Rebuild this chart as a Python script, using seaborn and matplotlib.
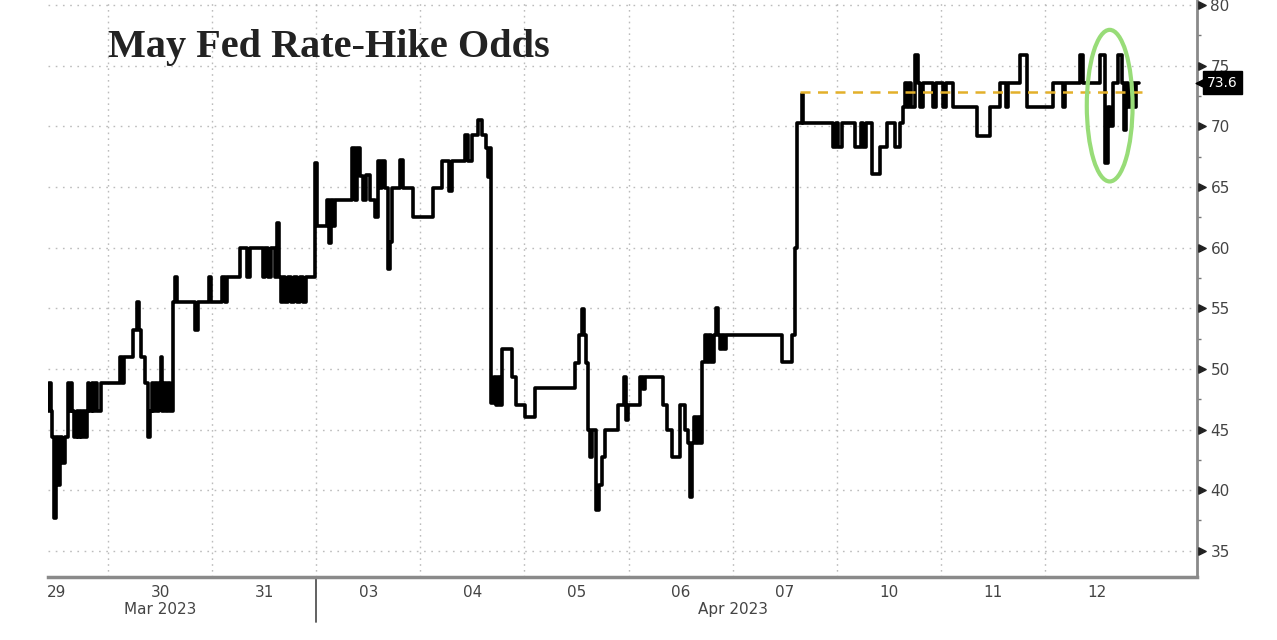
import numpy as np
import pandas as pd
import matplotlib
matplotlib.use('Agg')
import matplotlib.pyplot as plt
import matplotlib.transforms as mtransforms
from matplotlib.patches import Ellipse
import seaborn as sns

# trading-day position (0 = start of Mar 29 session) and odds (%), step changes
day_pos = [
    0.423, 0.432, 0.451, 0.461, 0.480, 0.500, 0.519, 0.538, 0.557, 0.586,
    0.615, 0.624, 0.644, 0.653, 0.672, 0.701, 0.711, 0.730, 0.740, 0.759,
    0.778, 0.797, 0.807, 0.817, 0.845, 0.855, 0.874, 0.893, 0.932,
    1.114, 1.134, 1.153, 1.239, 1.278, 1.297, 1.316, 1.354, 1.383, 1.402,
    1.422, 1.431, 1.450, 1.470, 1.489, 1.508, 1.518, 1.537, 1.556, 1.575,
    1.595, 1.623, 1.643, 1.662, 1.835, 1.864, 1.969, 1.988,
    2.094, 2.123, 2.142, 2.267, 2.334, 2.363, 2.488, 2.507, 2.536, 2.565,
    2.603, 2.622, 2.642, 2.661, 2.680, 2.699, 2.728, 2.757, 2.786, 2.815,
    2.843, 2.872, 2.901, 2.988,
    3.007, 3.103, 3.122, 3.141, 3.160, 3.180, 3.343, 3.372, 3.391, 3.420,
    3.449, 3.477, 3.516, 3.564, 3.593, 3.612, 3.631, 3.660, 3.689, 3.708,
    3.727, 3.804, 3.833, 3.929,
    4.121, 4.207, 4.275, 4.304, 4.428, 4.457, 4.496, 4.553, 4.592, 4.630,
    4.649, 4.669, 4.678, 4.707, 4.726, 4.745, 4.765, 4.784, 4.880, 4.918,
    5.005, 5.101, 5.485, 5.524, 5.552, 5.572, 5.591, 5.610, 5.629, 5.648,
    5.687, 5.716, 5.744, 5.773, 5.898, 5.956, 5.975, 5.994,
    6.109, 6.138, 6.158, 6.330, 6.369, 6.417, 6.494, 6.542, 6.571, 6.590,
    6.609, 6.628, 6.648, 6.667, 6.686, 6.705, 6.734, 6.753, 6.772, 6.792,
    6.820, 6.840, 6.859, 6.878, 6.897, 6.916, 6.936,
    7.474, 7.570, 7.598, 7.618, 7.666, 7.676, 7.964, 7.992,
    8.012, 8.050, 8.175, 8.232, 8.252, 8.280, 8.338, 8.415, 8.482, 8.559,
    8.607, 8.636, 8.655, 8.674, 8.694, 8.713, 8.751, 8.780, 8.799, 8.828,
    8.924, 8.953,
    9.020, 9.049, 9.116, 9.347, 9.472, 9.568, 9.625, 9.645, 9.760, 9.827,
    10.077, 10.173, 10.192, 10.336, 10.365, 10.528, 10.576, 10.605, 10.624,
    10.653, 10.701, 10.740, 10.759, 10.778, 10.797, 10.826, 10.855, 10.874,
    10.903,
]
odds = [
    46.5, 48.8, 46.5, 44.4, 37.7, 44.4, 40.4, 44.4, 42.2, 44.4,
    48.8, 46.5, 48.8, 46.5, 44.4, 46.5, 44.4, 46.5, 44.4, 46.5,
    44.4, 46.5, 48.8, 46.5, 48.8, 46.5, 48.8, 46.5, 48.8,
    51.0, 48.8, 51.0, 53.2, 55.5, 53.2, 51.0, 48.8, 44.4, 46.5,
    48.8, 46.5, 48.8, 46.5, 48.8, 51.0, 46.5, 48.8, 46.5, 48.8,
    46.5, 55.5, 57.6, 55.5, 53.2, 55.5, 57.6, 55.5,
    57.6, 55.5, 57.6, 60.0, 57.6, 60.0, 57.6, 60.0, 57.6, 60.0,
    57.6, 62.0, 57.6, 55.5, 57.6, 55.5, 57.6, 55.5, 57.6, 55.5,
    57.6, 55.5, 57.6, 67.0,
    61.8, 63.9, 60.4, 63.9, 61.8, 63.9, 68.2, 63.9, 68.2, 65.9,
    63.9, 66.0, 63.9, 62.5, 67.1, 64.9, 67.1, 64.9, 58.2, 60.5,
    64.9, 67.2, 64.9, 62.5,
    64.9, 67.1, 64.7, 67.1, 69.3, 67.1, 69.3, 70.5, 69.3, 68.2,
    65.8, 68.2, 47.2, 49.3, 47.0, 49.3, 47.0, 51.6, 49.3, 47.0,
    46.0, 48.4, 50.5, 52.8, 54.9, 52.8, 50.5, 45.0, 42.7, 45.0,
    38.4, 40.4, 42.7, 45.0, 47.0, 49.3, 45.8, 47.0,
    49.3, 48.3, 49.3, 47.0, 45.0, 42.7, 47.0, 45.0, 43.9, 39.4,
    43.9, 46.0, 43.9, 46.0, 43.9, 50.6, 52.8, 50.6, 52.8, 50.6,
    52.8, 55.0, 52.8, 51.6, 52.8, 51.6, 52.8,
    50.6, 52.8, 60.0, 70.3, 72.7, 70.3, 68.3, 70.3,
    68.3, 70.3, 68.3, 70.3, 68.3, 70.3, 66.1, 68.3, 70.3, 68.3,
    70.3, 71.6, 73.6, 71.6, 73.6, 71.6, 75.9, 73.6, 71.6, 73.6,
    71.6, 73.6,
    71.6, 73.6, 71.6, 69.2, 71.6, 73.6, 71.6, 73.6, 75.9, 71.6,
    73.6, 71.6, 73.6, 75.9, 73.6, 75.9, 67.0, 71.6, 70.0,
    73.6, 75.9, 73.6, 69.7, 73.6, 71.6, 73.6, 71.6, 73.6,
    73.6,
]

day_labels = ['29', '30', '31', '03', '04', '05', '06', '07', '10', '11', '12']
month_labels = ['Mar 2023', 'Apr 2023']
month_pos = [1.5, 7.0]
month_break = 3.0
y_ticks = [35, 40, 45, 50, 55, 60, 65, 70, 75, 80]
last_value = 73.6
ref_level = 72.8
ref_span = (7.65, 10.94)

sns.set_theme(style='white')
plt.rcParams['font.family'] = ['DejaVu Sans']

fig = plt.figure(figsize=(12.77, 6.4), dpi=100)
ax = fig.add_axes([0.0376, 0.0984, 0.8994, 0.9016])

df = pd.DataFrame({'day': day_pos, 'odds': odds})
sns.lineplot(data=df, x='day', y='odds', ax=ax, color='black', lw=2.6,
             drawstyle='steps-post', estimator=None, sort=False, zorder=4)

ax.set_xlim(0.42, 11.46)
ax.set_ylim(32.84, 80.41)
ax.set_xlabel('')
ax.set_ylabel('')

# dotted grid
for y in y_ticks:
    ax.axhline(y, color='#bcbcbc', lw=1, ls=(0, (1.2, 4)), zorder=0)
for d in range(1, 11):
    ax.axvline(d, color='#bcbcbc', lw=1, ls=(0, (1.2, 3)), zorder=0)

# spines
for s in ['top', 'left']:
    ax.spines[s].set_visible(False)
ax.spines['right'].set_color('#8a8a8a')
ax.spines['right'].set_linewidth(2)
ax.spines['bottom'].set_color('#8a8a8a')
ax.spines['bottom'].set_linewidth(2.5)

# right y axis
ax.yaxis.tick_right()
ax.set_yticks(y_ticks)
ax.set_yticks([y + 2.5 for y in y_ticks[:-1]], minor=True)
ax.tick_params(axis='y', which='major', length=0, pad=10, labelsize=11, labelcolor='#444444')
ax.tick_params(axis='y', which='minor', length=3, width=1, color='#777777', direction='out')
ytrans = mtransforms.blended_transform_factory(ax.transAxes, ax.transData)
ax.scatter([1.0045] * len(y_ticks), y_ticks, marker='>', s=28, color='#222222',
           transform=ytrans, clip_on=False, zorder=6)

# x axis: day labels centered in each session
ax.set_xticks(np.arange(len(day_labels)) + 0.5)
ax.set_xticklabels(day_labels)
ax.tick_params(axis='x', length=0, pad=6, labelsize=11, labelcolor='#444444')
xtrans = mtransforms.blended_transform_factory(ax.transData, fig.transFigure)
for lab, pos in zip(month_labels, month_pos):
    ax.text(pos, 0.047, lab, transform=xtrans, ha='center', va='center',
            fontsize=11, color='#444444')
sep_trans = mtransforms.blended_transform_factory(ax.transData, ax.transAxes)
ax.plot([month_break, month_break], [0, -0.078], transform=sep_trans, clip_on=False,
        color='#555555', lw=1.3)

# reference level and highlight
ax.plot(ref_span, [ref_level, ref_level], color='#e3b02a', lw=1.8, ls=(0, (4, 3)), zorder=5)
ax.add_patch(Ellipse((10.625, 71.7), 0.44, 12.5, fill=False, ec='#98dc78', lw=3, zorder=6))

# last value tag
ax.scatter([1.004], [last_value], marker='<', s=60, color='black', transform=ytrans,
           clip_on=False, zorder=7)
ax.text(1.009, last_value, f'{last_value}', transform=ytrans, color='white', fontsize=10,
        va='center', ha='left', zorder=8,
        bbox=dict(boxstyle='square,pad=0.3', fc='black', ec='black'))

fig.text(108 / 1277, 1 - 48 / 640, 'May Fed Rate-Hike Odds', family='Liberation Serif',
         weight='bold', size=29, va='center', ha='left', color='#222222')

fig.savefig('out.png', dpi=100)
